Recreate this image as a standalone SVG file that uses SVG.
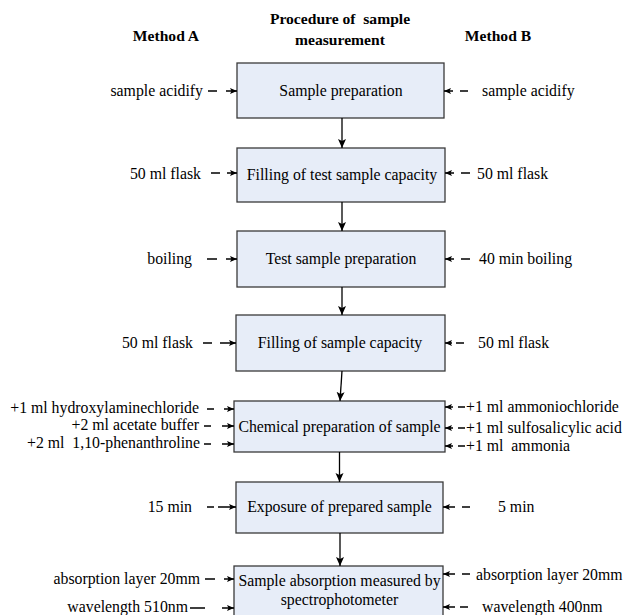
<svg xmlns="http://www.w3.org/2000/svg" width="633" height="615" viewBox="0 0 633 615">
<defs>
<style>
text{font-family:"Liberation Serif","Times New Roman",serif;font-size:15.8px;fill:#000;white-space:pre}
.t{font-weight:bold;font-size:15.6px;text-anchor:middle}
.c{text-anchor:middle}
.e{text-anchor:end}
.box{fill:#E7EDF8;stroke:#3a3a3a;stroke-width:1.3}
.side{fill:none;stroke:#000;stroke-width:1.3;marker-end:url(#sa)}
.flow{fill:none;stroke:#000;stroke-width:1.3;marker-end:url(#fa)}
</style>
<marker id="sa" markerUnits="userSpaceOnUse" markerWidth="8" markerHeight="8" refX="7" refY="3.5" orient="auto">
<path d="M0,0.5 L7,3.5 L0,6.5 L1.5,3.5 z" fill="#000"/>
</marker>
<marker id="fa" markerUnits="userSpaceOnUse" markerWidth="10" markerHeight="10" refX="9" refY="4" orient="auto">
<path d="M0,0 L9,4 L0,8 L2,4 z" fill="#000"/>
</marker>
</defs>
<rect width="633" height="615" fill="#fff"/>
<g id="titles">
<text class="t" x="166" y="41">Method A</text>
<text class="t" x="340" y="24">Procedure of  sample</text>
<text class="t" x="340" y="45">measurement</text>
<text class="t" x="498" y="41">Method B</text>
</g>
<g id="n1"><rect class="box" x="237" y="63" width="207" height="55"/><text class="c" x="341" y="96">Sample preparation</text></g>
<g id="n2"><rect class="box" x="237" y="148" width="208" height="54"/><text class="c" x="342" y="180">Filling of test sample capacity</text></g>
<g id="n3"><rect class="box" x="237" y="231" width="208" height="56"/><text class="c" x="341" y="264">Test sample preparation</text></g>
<g id="n4"><rect class="box" x="236" y="315" width="209" height="56"/><text class="c" x="340" y="348">Filling of sample capacity</text></g>
<g id="n5"><rect class="box" x="234" y="401" width="211" height="51"/><text class="c" x="339.5" y="432">Chemical preparation of sample</text></g>
<g id="n6"><rect class="box" x="236" y="482" width="207" height="51"/><text class="c" x="339.5" y="512">Exposure of prepared sample</text></g>
<g id="n7"><rect class="box" x="234" y="566" width="209" height="50"/><text class="c" x="339.5" y="586">Sample absorption measured by</text><text class="c" x="339.5" y="605">spectrophotometer</text></g>
<g id="labels">
<text class="e" x="203" y="96">sample acidify</text>
<text x="482" y="96">sample acidify</text>
<text class="e" x="201" y="179">50 ml flask</text>
<text x="477" y="179">50 ml flask</text>
<text class="e" x="192" y="264">boiling</text>
<text x="479" y="264">40 min boiling</text>
<text class="e" x="193" y="348">50 ml flask</text>
<text x="478" y="348">50 ml flask</text>
<text class="e" x="199" y="413">+1 ml hydroxylaminechloride</text>
<text class="e" x="199" y="430">+2 ml acetate buffer</text>
<text class="e" x="200" y="448">+2 ml  1,10-phenanthroline</text>
<text x="466" y="412">+1 ml ammoniochloride</text>
<text x="466" y="433">+1 ml sulfosalicylic acid</text>
<text x="466" y="451">+1 ml  ammonia</text>
<text class="e" x="192" y="512">15 min</text>
<text x="498" y="512">5 min</text>
<text class="e" x="200" y="584">absorption layer 20mm</text>
<text class="e" x="188" y="612">wavelength 510nm</text>
<text x="476" y="580">absorption layer 20mm</text>
<text x="482" y="612">wavelength 400nm</text>
</g>
<g id="connectors">
<path class="flow" d="M342,118 V148"/>
<path class="flow" d="M342,202 V231"/>
<path class="flow" d="M342,287 V315"/>
<path class="flow" d="M342,371 L340,401"/>
<path class="flow" d="M339.5,452 V482"/>
<path class="flow" d="M340,533 V566"/>
<path class="side" d="M208,91 H217 M226,91 H237"/>
<path class="side" d="M468,91 H460 M453,91 H444"/>
<path class="side" d="M211,173 H220 M227,173 H237"/>
<path class="side" d="M470,173 H461 M454,173 H445"/>
<path class="side" d="M207,259 H217 M226,259 H237"/>
<path class="side" d="M470,259 H461 M454,259 H445"/>
<path class="side" d="M203,343 H212 M220,343 H236"/>
<path class="side" d="M464,343 H456 M452,343 H445"/>
<path class="side" d="M207,409 H214 M224,409 H234"/>
<path class="side" d="M204,426 H211 M222,426 H234"/>
<path class="side" d="M204,444 H211 M222,444 H234"/>
<path class="side" d="M465,407 H458 M453,407 H445"/>
<path class="side" d="M465,428 H458 M453,428 H445"/>
<path class="side" d="M465,446 H458 M453,446 H445"/>
<path class="side" d="M207,507 H214 M218,507 H236"/>
<path class="side" d="M470,507 H462 M455,507 H443"/>
<path class="side" d="M205,579 H215 M224,579 H234"/>
<path class="side" d="M190,608 H205 M222,608 H234"/>
<path class="side" d="M470,574 H462 M455,574 H443"/>
<path class="side" d="M468,607 H460 M455,607 H443"/>
</g>
</svg>
